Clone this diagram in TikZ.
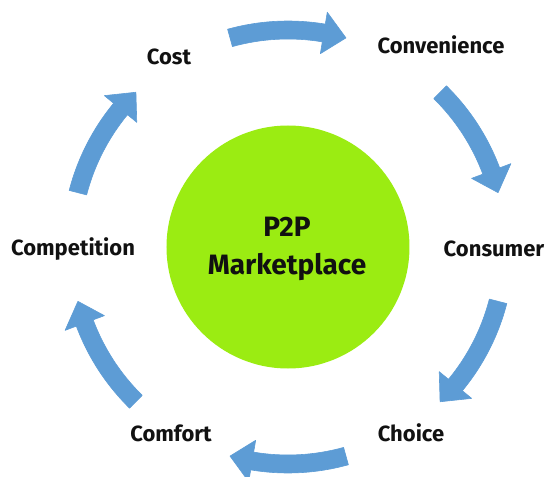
\documentclass[tikz,border=0pt]{standalone}
\usepackage{fontspec}
\setmainfont{Fira Sans}
\definecolor{verde}{RGB}{155,236,18}
\definecolor{azul}{RGB}{93,156,213}
\definecolor{texto}{RGB}{17,17,17}
\tikzset{
  etiqueta/.style={text=texto, font=\fontsize{22}{26}\selectfont\bfseries},
  flecha/.style={fill=azul, draw=azul, line width=0.6pt, line join=round}
}
% flecha curva: angulo de inicio, angulo de la punta
\newcommand{\flecha}[2]{%
  \path[flecha] (#1:226pt) arc[start angle=#1, end angle=#2+6, radius=226pt]
    -- (#2+6:238pt) -- (#2:217pt) -- (#2+6:196pt) -- (#2+6:208pt)
    arc[start angle=#2+6, end angle=#1, radius=208pt] -- cycle;}
\begin{document}
\begin{tikzpicture}[x=1pt, y=1pt]
\useasboundingbox (-288,-230) rectangle (259,247);
% Nodos
\node [circle, fill=verde, minimum size=243pt, inner sep=0pt] (mercado) at (0,0) {};
\node [text=texto, align=center, font=\fontsize{28}{38}\selectfont\bfseries] (titulo) at (-1,-2) {P2P\\Marketplace};
\node [etiqueta] (cost)        at (-119,190) {Cost};
\node [etiqueta] (convenience) at (153,202)  {Convenience};
\node [etiqueta] (consumer)    at (206,-2)   {Consumer};
\node [etiqueta] (choice)      at (123,-186) {Choice};
\node [etiqueta] (comfort)     at (-117,-186) {Comfort};
\node [etiqueta] (competition) at (-215,-2)  {Competition};
% Flechas
\flecha{105.5}{74.5}
\flecha{45.5}{14.5}
\flecha{-14.5}{-45.5}
\flecha{-74.5}{-105.5}
\flecha{-134.5}{-165.5}
\flecha{165.5}{134.5}
\end{tikzpicture}
\end{document}
